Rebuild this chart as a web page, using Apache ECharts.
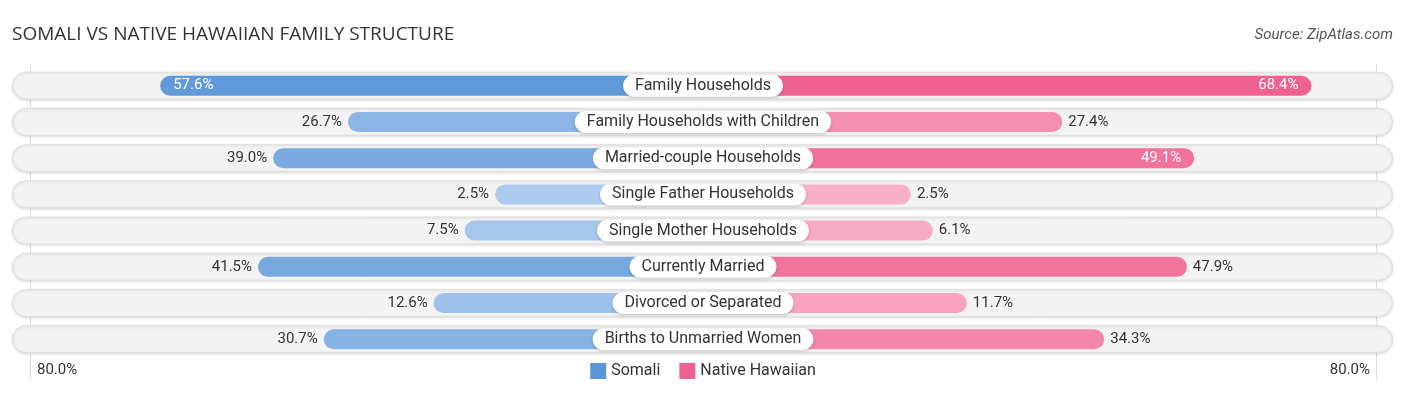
<!DOCTYPE html>
<html>
<head>
<meta charset="utf-8">
<script src="https://cdn.jsdelivr.net/npm/echarts@6/dist/echarts.min.js"></script>
<style>
html,body{margin:0;padding:0;background:#fff;}
#chart{width:1406px;height:395px;}
</style>
</head>
<body>
<div id="chart"></div>
<script>
const categories = [
  "Family Households",
  "Family Households with Children",
  "Married-couple Households",
  "Single Father Households",
  "Single Mother Households",
  "Currently Married",
  "Divorced or Separated",
  "Births to Unmarried Women"
];
const somali = [57.6, 26.7, 39.0, 2.5, 7.5, 41.5, 12.6, 30.7];
const nativeHawaiian = [68.4, 27.4, 49.1, 2.5, 6.1, 47.9, 11.7, 34.3];
const seriesNames = ["Somali", "Native Hawaiian"];
const tickLabels = ["80.0%", "80.0%"];
const titleText = "SOMALI VS NATIVE HAWAIIAN FAMILY STRUCTURE";
const sourceText = "Source: ZipAtlas.com";

// layout helpers (not data)
const OFFSET = 31.7;      // half width of the centre gap, in axis units
const AXIS_MAX = 80 + OFFSET;
const FONT = "Roboto, 'Noto Sans', sans-serif";

function hex2rgb(h){return [parseInt(h.slice(1,3),16),parseInt(h.slice(3,5),16),parseInt(h.slice(5,7),16)];}
function mix(a,b,t){const A=hex2rgb(a),B=hex2rgb(b);return 'rgb('+A.map((v,i)=>Math.round(v+(B[i]-v)*t)).join(',')+')';}
function shade(v, light, dark){return mix(light, dark, Math.min(v/62,1));}

const BLUE_L = '#b0cdef', BLUE_D = '#5b96d9';
const PINK_L = '#f8b3cb', PINK_D = '#ef6190';

function valueLabel(v, side){
  const inside = v > 48;
  return {
    show: true,
    position: inside ? (side === 'L' ? 'insideLeft' : 'insideRight') : (side === 'L' ? 'left' : 'right'),
    distance: inside ? 13 : 6,
    color: inside ? '#fff' : '#333',
    fontSize: 15,
    fontFamily: FONT,
    formatter: v.toFixed(1) + '%'
  };
}

const somaliData = somali.map(v => ({
  value: -(v + OFFSET),
  itemStyle: {color: shade(v, BLUE_L, BLUE_D)},
  label: valueLabel(v, 'L')
}));
const hawaiiData = nativeHawaiian.map(v => ({
  value: v + OFFSET,
  itemStyle: {color: shade(v, PINK_L, PINK_D)},
  label: valueLabel(v, 'R')
}));

const chart = echarts.init(document.getElementById('chart'), null, {renderer: 'canvas'});
const GRID_TOP = 67.6, GRID_BOTTOM = 37.6;

chart.setOption({
  animation: false,
  backgroundColor: '#fff',
  title: [{
    text: titleText, left: 7, top: 20,
    textStyle: {fontSize: 19, fontWeight: 'normal', color: '#333', fontFamily: "'Open Sans', sans-serif"}
  }, {
    text: sourceText, right: 8, top: 23,
    textStyle: {fontSize: 15, fontWeight: 'normal', fontStyle: 'italic', color: '#555', fontFamily: FONT}
  }],
  legend: {
    bottom: 11, left: 'center',
    itemWidth: 16, itemHeight: 16, itemGap: 19,
    icon: 'rect',
    textStyle: {fontSize: 16, color: '#333', fontFamily: FONT},
    data: seriesNames
  },
  grid: [
    {left: 24, right: 24, top: GRID_TOP, bottom: GRID_BOTTOM},
    {left: 12, right: 13, top: GRID_TOP, bottom: GRID_BOTTOM}
  ],
  xAxis: [
    {type: 'value', gridIndex: 0, min: -AXIS_MAX, max: AXIS_MAX, show: false},
    {type: 'value', gridIndex: 1, min: 0, max: 1, show: false}
  ],
  yAxis: [
    {type: 'category', gridIndex: 0, data: categories, inverse: true, show: false},
    {type: 'category', gridIndex: 1, data: categories, inverse: true, show: false}
  ],
  graphic: [
    {type: 'line', shape: {x1: 30.5, y1: 64, x2: 30.5, y2: 380}, style: {stroke: '#dcdcdc', lineWidth: 1}, z: 0},
    {type: 'line', shape: {x1: 1376.5, y1: 64, x2: 1376.5, y2: 380}, style: {stroke: '#dcdcdc', lineWidth: 1}, z: 0},
    {type: 'text', left: 37, top: 363, style: {text: tickLabels[0], fontSize: 15, fill: '#333', fontFamily: FONT}},
    {type: 'text', right: 36, top: 363, style: {text: tickLabels[1], fontSize: 15, fill: '#333', fontFamily: FONT}}
  ],
  series: [
    {
      type: 'bar', xAxisIndex: 1, yAxisIndex: 1, silent: true,
      data: categories.map(() => 1),
      barWidth: 28, z: 1,
      itemStyle: {color: '#f3f3f3', borderColor: '#dedede', borderWidth: 1, borderRadius: 14,
        shadowColor: 'rgba(0,0,0,0.12)', shadowBlur: 3, shadowOffsetY: 1},
      label: {show: false}
    },
    {
      name: seriesNames[0], type: 'bar', xAxisIndex: 0, yAxisIndex: 0,
      data: somaliData, barWidth: 20, barGap: '-100%', z: 3,
      itemStyle: {color: BLUE_D, borderRadius: 10}
    },
    {
      name: seriesNames[1], type: 'bar', xAxisIndex: 0, yAxisIndex: 0,
      data: hawaiiData, barWidth: 20, barGap: '-100%', z: 3,
      itemStyle: {color: PINK_D, borderRadius: 10}
    },
    {
      type: 'scatter', xAxisIndex: 0, yAxisIndex: 0, silent: true, z: 5,
      symbolSize: 1, itemStyle: {color: 'rgba(0,0,0,0)', opacity: 1},
      data: categories.map(c => [0, c]),
      label: {
        show: true, position: 'inside', opacity: 1,
        formatter: p => p.data[1],
        fontSize: 16, color: '#333', fontFamily: FONT,
        backgroundColor: '#fff', borderRadius: 11, padding: [3, 12, 3, 12],
        shadowColor: 'rgba(0,0,0,0.22)', shadowBlur: 3, shadowOffsetY: 1
      }
    }
  ]
});
</script>
</body>
</html>
